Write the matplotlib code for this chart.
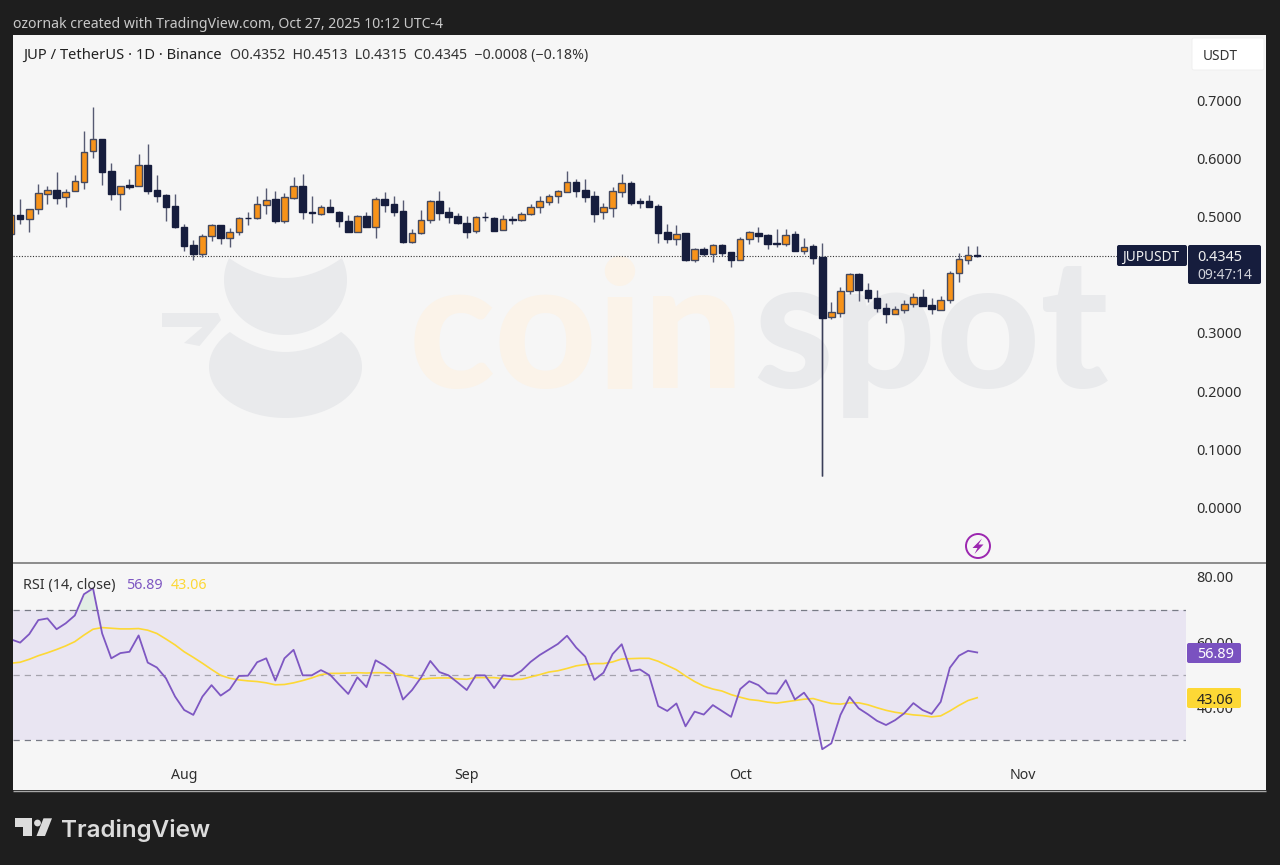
import numpy as np
import pandas as pd
import matplotlib
matplotlib.use("Agg")
import matplotlib.pyplot as plt
import matplotlib.dates as mdates
from matplotlib.patches import Rectangle, Polygon, Circle, FancyBboxPatch
from matplotlib.transforms import ScaledTranslation

dates = pd.date_range("2025-07-13", periods=107, freq="D")
opens = [.4716,.5043,.4969,.5141,.5409,.5467,.5347,.5460,.5615,.6137,
 .6349,.5794,.5409,.5553,.5546,.5907,.5467,.5387,.5198,.4842,
 .4522,.4378,.4682,.4876,.4648,.4746,.4997,.4986,.5220,.5318,
 .4935,.5340,.5536,.5095,.5065,.5180,.5100,.4940,.4751,.5026,
 .4832,.5318,.5232,.5112,.4579,.4729,.4952,.5284,.5100,.5031,
 .4911,.4763,.5014,.4997,.4785,.4969,.4952,.5055,.5175,.5271,
 .5364,.5443,.5605,.5473,.5369,.5089,.5168,.5443,.5588,.5284,
 .5284,.5203,.4746,.4631,.4729,.4275,.4459,.4373,.4522,.4402,
 .4275,.4631,.4739,.4694,.4557,.4545,.4711,.4424,.4505,.4321,
 .3290,.3364,.3732,.4034,.3759,.3622,.3450,.3342,.3411,.3519,
 .3639,.3491,.3411,.3577,.4041,.4275,.4352]
closes = [.5043,.4969,.5146,.5416,.5467,.5340,.5443,.5622,.6125,.6344,
 .5782,.5404,.5536,.5529,.5907,.5460,.5375,.5186,.4832,.4510,
 .4378,.4687,.4871,.4648,.4756,.4991,.4986,.5227,.5296,.4935,
 .5347,.5536,.5089,.5082,.5175,.5100,.4935,.4751,.5026,.4832,
 .5318,.5220,.5100,.4574,.4739,.4957,.5284,.5082,.5014,.4900,
 .4746,.5009,.5003,.4773,.4974,.4957,.5060,.5175,.5278,.5364,
 .5450,.5605,.5460,.5357,.5065,.5180,.5450,.5588,.5244,.5249,
 .5186,.4734,.4631,.4722,.4270,.4454,.4368,.4522,.4395,.4275,
 .4636,.4746,.4677,.4545,.4545,.4704,.4424,.4498,.4309,.3273,
 .3371,.3737,.4034,.3749,.3612,.3445,.3342,.3423,.3519,.3634,
 .3474,.3423,.3582,.4041,.4282,.4351,.4345]
highs = [.5095,.5318,.5146,.5570,.5546,.5777,.5490,.5725,.6486,.6904,
 .6349,.5931,.5536,.5662,.6086,.6263,.5725,.5404,.5404,.4888,
 .4613,.4711,.4888,.4876,.4814,.5003,.5100,.5369,.5507,.5455,
 .5416,.5691,.5742,.5375,.5215,.5318,.5112,.5048,.5043,.5100,
 .5352,.5438,.5369,.5301,.4797,.5134,.5296,.5455,.5186,.5082,
 .5026,.5026,.5089,.5014,.5038,.5026,.5095,.5232,.5369,.5404,
 .5473,.5794,.5662,.5662,.5450,.5249,.5519,.5742,.5632,.5335,
 .5387,.5232,.4883,.4866,.4739,.4471,.4488,.4540,.4540,.4412,
 .4660,.4768,.4832,.4716,.4797,.4797,.4763,.4643,.4545,.4557,
 .3553,.3811,.4052,.4052,.3869,.3749,.3526,.3479,.3577,.3703,
 .3766,.3612,.3651,.4081,.4385,.4510,.4513]
lows = [.4682,.4888,.4756,.5065,.5232,.5232,.5180,.5450,.5485,.6017,
 .5558,.5301,.5129,.5490,.5546,.5404,.5271,.4945,.4820,.4424,
 .4270,.4326,.4591,.4545,.4498,.4694,.4866,.4969,.5060,.4900,
 .4900,.5323,.4979,.4911,.5048,.5100,.4837,.4751,.4751,.4832,
 .4653,.5095,.5031,.4557,.4562,.4716,.4900,.4962,.4911,.4888,
 .4653,.4734,.4945,.4763,.4780,.4893,.4940,.5038,.5082,.5215,
 .5254,.5443,.5357,.5271,.4928,.4979,.5009,.5357,.5215,.5163,
 .5186,.4567,.4567,.4522,.4258,.4235,.4338,.4241,.4338,.4149,
 .4275,.4540,.4574,.4454,.4488,.4510,.4424,.4373,.4206,.0558,
 .3256,.3285,.3686,.3565,.3553,.3376,.3182,.3342,.3364,.3457,
 .3474,.3342,.3411,.3536,.3897,.4206,.4315]
rsi_values = [60.9,59.9,62.5,66.8,67.3,64.0,65.8,68.2,74.7,76.5,
 62.7,55.1,56.7,57.1,62.1,53.8,52.3,49.0,43.4,39.3,
 37.8,43.4,46.9,43.7,45.6,49.7,49.8,53.9,55.1,48.3,
 55.1,57.7,49.9,49.9,51.5,50.1,47.1,44.2,49.3,46.3,
 54.5,52.9,50.7,42.5,45.4,49.3,54.3,50.9,49.9,47.7,
 45.4,49.9,49.9,46.0,49.9,49.6,51.3,54.0,56.1,57.8,
 59.5,62.0,58.4,55.6,48.5,50.7,56.4,59.4,51.2,51.7,
 49.9,40.5,39.0,41.3,34.3,38.8,37.9,40.8,39.0,37.2,
 45.7,48.1,46.9,44.4,44.3,48.4,42.5,44.6,40.7,27.3,
 29.1,37.8,43.3,39.8,38.0,36.0,34.7,36.2,38.3,41.4,
 39.3,38.1,41.8,52.2,55.9,57.4,56.89]
rsi_ma = [53.6,53.9,54.8,55.9,56.8,57.8,58.9,60.2,62.2,64.0,
 64.5,64.3,64.1,64.1,64.2,63.7,62.7,61.0,59.2,57.1,
 55.4,53.6,51.7,49.9,49.0,48.5,48.2,48.0,47.6,47.0,
 47.1,47.6,48.3,49.1,50.1,50.5,50.5,50.6,50.7,50.6,
 50.7,50.7,50.5,49.9,49.3,48.7,49.0,49.1,49.1,48.8,
 48.7,49.2,49.2,49.2,48.9,48.6,48.7,49.4,50.1,50.9,
 51.3,52.0,52.8,53.2,53.5,53.5,54.0,54.9,55.0,55.1,
 55.1,54.2,52.9,51.6,49.7,48.0,46.6,45.7,45.1,44.0,
 43.2,42.5,42.2,41.7,41.4,41.8,42.2,42.6,42.8,42.0,
 41.3,41.1,41.5,41.5,40.9,40.0,39.2,38.6,38.2,37.8,
 37.6,37.2,37.5,39.0,40.7,42.2,43.06]
price_ticks = [0.0, 0.1, 0.2, 0.3, 0.5, 0.6, 0.7]
rsi_ticks = [40, 60, 80]
month_ticks = ["2025-08-01", "2025-09-01", "2025-10-01", "2025-11-01"]
month_labels = ["Aug", "Sep", "Oct", "Nov"]

plt.rcParams["font.family"] = ["Noto Sans", "DejaVu Sans"]
W, H = 1280, 865
NAVY = "#161d3d"; ORANGE = "#f7931a"; EDGE = "#454a60"; WICK = "#565a72"
PURPLE = "#7e57c2"; YELLOW = "#fdd835"; PANEL = "#f6f6f6"; DARK = "#1e1e1e"; TXT = "#2e2e2e"

fig = plt.figure(figsize=(W/100, H/100), dpi=100, facecolor=DARK)

def px_axes(z):
    a = fig.add_axes([0, 0, 1, 1], zorder=z)
    a.set_xlim(0, W); a.set_ylim(H, 0); a.axis("off"); a.patch.set_alpha(0)
    return a

def rect_axes(x0, y0, x1, y1, z):
    return fig.add_axes([x0/W, 1-y1/H, (x1-x0)/W, (y1-y0)/H], zorder=z)

def raise_labels(a, px=1):
    for lbl in a.get_yticklabels():
        lbl.set_transform(lbl.get_transform() + ScaledTranslation(0, px/100, fig.dpi_scale_trans))

bg = px_axes(0)
bg.add_patch(Rectangle((13, 35), 1253, 755, fc=PANEL, ec="none"))

def crescent(cx, cy, rx, ry, ytip, ydip, col):
    dy = (ytip-cy)/ry
    a0 = np.arcsin(np.clip(dy, -1, 1))
    t = np.linspace(a0, np.pi-a0, 80)
    ox, oy = cx+rx*np.cos(t), cy+ry*np.sin(t)
    ix = np.linspace(ox[-1], ox[0], 40)
    half = abs(ox[0]-cx)
    iy = ydip-(ydip-ytip)*((ix-cx)/half)**2
    bg.add_patch(Polygon(np.c_[np.r_[ox, ix], np.r_[oy, iy]], fc=col, ec="none"))

WM = "#e9eaec"
crescent(285.5, 280, 61.5, 55, 258, 278, WM)
crescent(285.5, 367, 76.5, 51, 332, 352, WM)
bg.add_patch(Polygon([(162,313),(218,313),(221,320),(199.5,346),(184,343),(202.6,327),(162,327)], fc=WM, ec="none"))
bg.text(409, 388, "coin", fontsize=128, fontweight=900, family="Lato", color="#fbf3e9", ha="left", va="baseline")
bg.text(753, 388, "spot", fontsize=130, fontweight=900, family="Lato", color=WM, ha="left", va="baseline")

xn = mdates.date2num(dates)
step = 9.115
xlim = (xn[0]+(13-11)/step, xn[0]+(1186-11)/step)

ax = rect_axes(13, 35, 1186, 562, 2)
ax.patch.set_alpha(0)
ax.set_xlim(*xlim)
ax.set_ylim((508.5-562)/582, (508.5-35)/582)
o, h, l, c = map(np.array, (opens, highs, lows, closes))
up = c >= o
ax.vlines(xn, l, h, color=WICK, lw=1.0, zorder=2)
ax.vlines(xn[89], l[89], o[89], color="#3a3e58", lw=1.0, zorder=2)
ax.bar(xn, np.maximum(np.abs(c-o), 0.0008), bottom=np.minimum(o, c), width=0.72,
       color=[ORANGE if u else NAVY for u in up],
       edgecolor=[EDGE if u else NAVY for u in up], linewidth=1.0, zorder=3)
ax.plot([xlim[0], xlim[1]], [closes[-1]]*2, color="#333333", lw=0.8, ls=(0, (1, 1.5)), zorder=1)
ax.yaxis.tick_right()
ax.set_yticks(price_ticks, [f"{t:.4f}" for t in price_ticks])
ax.tick_params(axis="y", length=0, pad=7.6, labelsize=10.4, labelcolor=TXT)
ax.set_xticks([])
raise_labels(ax)
for s in ax.spines.values():
    s.set_visible(False)

ar = rect_axes(13, 563, 1186, 790, 2)
ar.patch.set_alpha(0)
ar.set_xlim(*xlim)
ar.set_ylim(50+(675-790)/3.27, 50+(675-563)/3.27)
ar.axhspan(30, 70, color="#e9e5f2", lw=0, zorder=0)
ar.axhline(70, color="#787b86", lw=0.9, ls=(0, (5, 4)), zorder=1)
ar.axhline(50, color="#a5a3ad", lw=0.9, ls=(0, (5, 4)), zorder=1)
ar.axhline(30, color="#787b86", lw=0.9, ls=(0, (5, 4)), zorder=1)
rs = np.array(rsi_values)
ar.fill_between(xn, 70, rs, where=rs > 70, interpolate=True, color="#bfe0c6", alpha=0.35, lw=0, zorder=1)
ar.plot(xn, rsi_ma, color=YELLOW, lw=1.2, zorder=2)
ar.plot(xn, rs, color=PURPLE, lw=1.3, zorder=3)
ar.yaxis.tick_right()
ar.set_yticks(rsi_ticks, [f"{t:.2f}" for t in rsi_ticks])
ar.tick_params(axis="y", length=0, pad=7.6, labelsize=10.4, labelcolor=TXT)
ar.set_xticks(mdates.date2num(pd.to_datetime(month_ticks)), month_labels)
ar.tick_params(axis="x", length=0, pad=-15.5, labelsize=10.2, labelcolor=TXT)
raise_labels(ar, 0)
for lbl in ar.get_xticklabels():
    lbl.set_fontweight("medium")
for s in ar.spines.values():
    s.set_visible(False)

fg = px_axes(5)
fg.plot([13, 1266], [562.5, 562.5], color="#8c8c8c", lw=1.4, solid_capstyle="butt")
fg.plot([13, 1266], [790.5, 790.5], color="#a8a8a8", lw=1.0, solid_capstyle="butt")

fg.text(13, 23, "ozornak created with TradingView.com, Oct 27, 2025 10:12 UTC-4",
        color="#c9c9c9", fontsize=10.15, va="center_baseline", ha="left")
fg.text(23, 53.5, "JUP / TetherUS · 1D · Binance", color="#222222", fontsize=10.6, va="center_baseline", ha="left")
fg.text(230, 53.5, "O0.4352  H0.4513  L0.4315  C0.4345  −0.0008 (−0.18%)", color="#333333", fontsize=10.2, va="center_baseline", ha="left")
fg.text(23, 583.5, "RSI (14, close)", color="#333333", fontsize=10.4, va="center_baseline", ha="left")
fg.text(126, 583.5, "56.89", color=PURPLE, fontsize=10.3, va="center_baseline", ha="left")
fg.text(171, 583.5, "43.06", color=YELLOW, fontsize=10.3, va="center_baseline", ha="left")

def box(x, y, w, hh, col, ec="none"):
    fg.add_patch(FancyBboxPatch((x+1.5, y+1.5), w-3, hh-3, boxstyle="round,pad=1.5,rounding_size=2", fc=col, ec=ec, lw=0.6))

box(1192, 38, 72, 32, "#ffffff", "#eeeeee")
fg.text(1203, 54, "USDT", color="#333333", fontsize=9.8, va="center_baseline", ha="left")

box(1117, 245, 70, 21, NAVY)
box(1188, 245, 73, 39, NAVY)
fg.text(1122, 255.5, "JUPUSDT", color="#f2f2f2", fontsize=9.8, va="center_baseline", ha="left")
fg.text(1197, 255.5, "0.4345", color="#f0f0f0", fontsize=10.4, va="center_baseline", ha="left")
fg.text(1197, 273.5, "09:47:14", color="#d0d2da", fontsize=10.0, va="center_baseline", ha="left")

box(1187, 643, 54, 20, "#7a52c0")
fg.text(1197, 653, "56.89", color="#ffffff", fontsize=10.4, va="center_baseline", ha="left")
box(1187, 688, 54, 20, "#fdd835")
fg.text(1197, 698, "43.06", color="#222222", fontsize=10.4, va="center_baseline", ha="left")

fg.add_patch(Circle((978, 546), 12, fc="none", ec="#9c27b0", lw=1.4))
fg.add_patch(Polygon([(982,538.5),(972.5,548),(977.5,548),(974.5,554),(983.5,544.5),(978.5,544.5)], fc="#9c27b0", ec="none"))

LG = "#dcdcdc"
fg.add_patch(Polygon([(15,818.3),(31.7,818.3),(31.7,836),(22.7,836),(22.7,826.7),(15,826.7)], fc=LG, ec="none"))
fg.add_patch(Circle((37.5, 823), 3.4, fc=LG, ec="none"))
fg.add_patch(Polygon([(43.5,818.3),(52,818.3),(45,836),(36.5,836)], fc=LG, ec="none"))
fg.text(60.5, 828, "TradingView", color=LG, fontsize=17.4, family="Inter", fontweight="semibold", va="center_baseline", ha="left")

fig.savefig("out.png", dpi=100, facecolor=DARK)
